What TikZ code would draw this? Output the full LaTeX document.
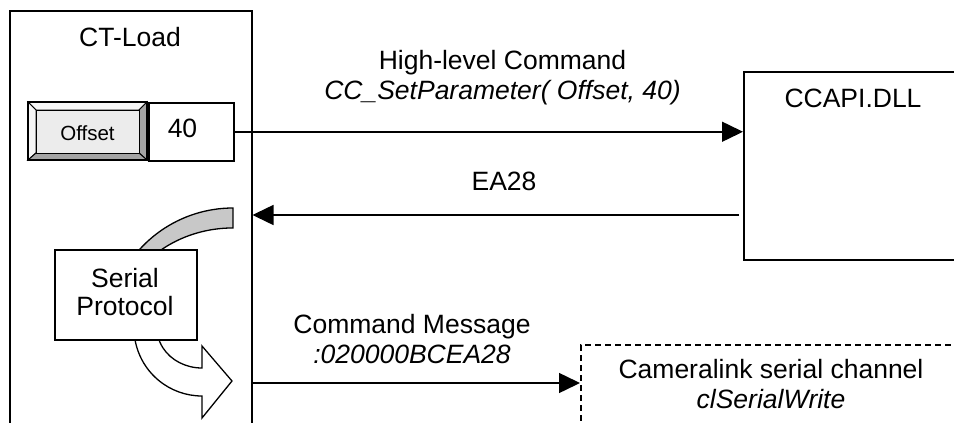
\documentclass[tikz,border=0pt]{standalone}
\usepackage{fontspec}
\setmainfont{Liberation Sans}
\usetikzlibrary{arrows.meta}
\definecolor{bandgray}{HTML}{C8C8C8}
\definecolor{bevellight}{HTML}{F6F6F6}
\definecolor{beveldark}{HTML}{A4A4A4}
\definecolor{btnface}{HTML}{ECECEC}
\begin{document}
\begin{tikzpicture}[x=1pt, y=-1pt, line width=1.5pt,
  box/.style={draw, fill=white, rectangle, inner sep=0pt, anchor=north west},
  lbl/.style={font=\fontsize{26.5}{30}\selectfont, inner sep=0pt, anchor=base},
  ital/.style={lbl, font=\fontsize{26.5}{30}\selectfont\itshape},
  btntext/.style={font=\fontsize{20.5}{24}\selectfont, inner sep=0pt, anchor=base},
  msg/.style={-{Triangle[length=21pt, width=20pt]}}]

\useasboundingbox (0,0) rectangle (954,423);
\clip (0,0) rectangle (954,423);

% application window
\node[box, minimum width=242pt, minimum height=430pt] (ctload) at (9,10) {};
\node[lbl] (ctloadtxt) at (130,46.5) {CT-Load};

% bevelled "Offset" button
\begin{scope}[line width=1pt]
  \filldraw[fill=bevellight] (28,102) -- (147,102) -- (139,110) -- (36,110) -- cycle;
  \filldraw[fill=bevellight] (28,102) -- (36,110) -- (36,153) -- (28,160) -- cycle;
  \filldraw[fill=beveldark] (147,102) -- (147,160) -- (139,153) -- (139,110) -- cycle;
  \filldraw[fill=beveldark] (28,160) -- (147,160) -- (139,153) -- (36,153) -- cycle;
  \filldraw[fill=btnface] (36,110) rectangle (139,153);
  \draw[line width=1.4pt] (28,102) rectangle (147,160);
\end{scope}
\node[btntext] (offsettxt) at (87.5,140) {Offset};

% value field
\node[box, minimum width=85pt, minimum height=58pt] (value) at (148,102) {};
\node[lbl] (valuetxt) at (182.5,137.5) {40};

% gray curved band coming from the reply
\filldraw[fill=bandgray, line width=1.3pt, shift={(233,334)}]
  (0,-126) arc[start angle=270, end angle=200, radius=126]
  -- (-110.9,-36.3) arc[start angle=200, end angle=270, x radius=118, y radius=106] -- cycle;

% white curved block arrow leading to the outgoing message
\filldraw[fill=white, line width=1.3pt, shift={(202,328)}]
  (190:68) arc[start angle=190, end angle=90, radius=68]
  -- (0,90) -- (30,53) -- (0,18) -- (0,40)
  arc[start angle=90, end angle=190, x radius=45, y radius=40] -- cycle;

% protocol block
\node[box, minimum width=142pt, minimum height=90pt] (serial) at (54,249) {};
\node[lbl] (serialtxt) at (125,287) {Serial};
\node[lbl] (protocoltxt) at (125,315) {Protocol};

% DLL block
\node[box, minimum width=222pt, minimum height=188pt] (dll) at (743,71) {};
\node[lbl] (dlltxt) at (853,107) {CCAPI.DLL};

% serial channel block
\node[box, dash pattern=on 6pt off 4pt, minimum width=385pt, minimum height=100pt] (channel) at (580,344) {};
\node[lbl] (channeltxt) at (771,378) {Cameralink serial channel};
\node[ital] (writetxt) at (771,408) {clSerialWrite};

% messages
\coordinate (reply) at (739,215);
\coordinate (cmd) at (251,383);
\draw[msg] (value.east) -- (dll.west |- value.east);
\draw[msg] (reply) -- (ctload.east |- reply);
\draw[msg] (ctload.east |- cmd) -- (channel.west |- cmd);

\node[lbl] (hlctxt) at (502.5,69) {High-level Command};
\node[ital] (calltxt) at (502.5,99) {CC\_SetParameter( Offset, 40)};
\node[lbl] (replytxt) at (504,190) {EA28};
\node[lbl] (cmdtxt) at (412,333) {Command Message};
\node[ital] (codetxt) at (412,363) {:020000BCEA28};
\end{tikzpicture}
\end{document}
